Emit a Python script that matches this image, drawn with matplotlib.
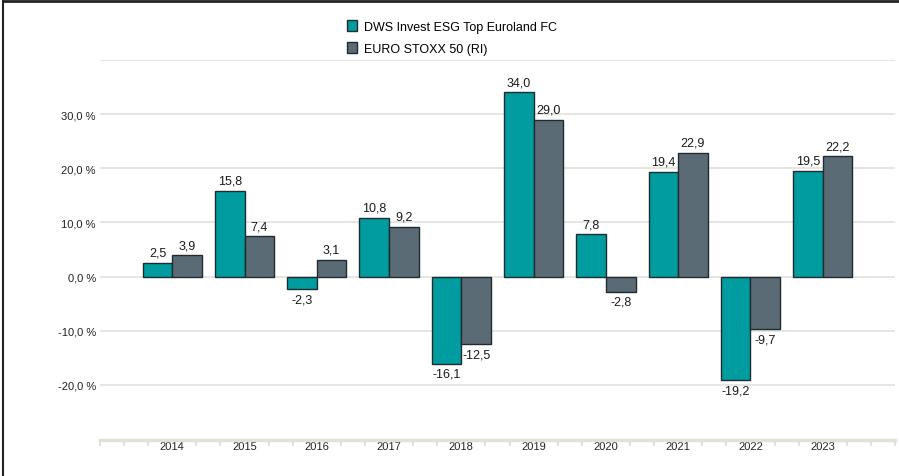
import matplotlib

matplotlib.use("Agg")
import matplotlib.pyplot as plt
import numpy as np
from matplotlib.lines import Line2D
from matplotlib.patches import Patch

years = ["2014", "2015", "2016", "2017", "2018", "2019", "2020", "2021", "2022", "2023"]
fund = [2.5, 15.8, -2.3, 10.8, -16.1, 34.0, 7.8, 19.4, -19.2, 19.5]
index = [3.9, 7.4, 3.1, 9.2, -12.5, 29.0, -2.8, 22.9, -9.7, 22.2]
fund_name = "DWS Invest ESG Top Euroland FC"
index_name = "EURO STOXX 50 (RI)"
y_ticks = [-20, -10, 0, 10, 20, 30]

TEAL = "#009c9f"
SLATE = "#5b6b76"
EDGE = "#1f2b2e"
GRID = "#e3e0da"

plt.rcParams["font.family"] = ["Liberation Sans", "DejaVu Sans"]

fig = plt.figure(figsize=(8.99, 4.77), dpi=100)
ax = fig.add_axes([100 / 899, 1 - 441 / 477, 795 / 899, (441 - 61) / 477])

x = np.arange(len(years))
w = 0.41
b1 = ax.bar(x - w / 2, fund, w, color=TEAL, edgecolor=EDGE, linewidth=1, zorder=3)
b2 = ax.bar(x + w / 2, index, w, color=SLATE, edgecolor=EDGE, linewidth=1, zorder=3)

def fmt(v):
    return f"{v:.1f}".replace(".", ",")

for bars, vals in [(b1, fund), (b2, index)]:
    for bar, v in zip(bars, vals):
        cx = bar.get_x() + bar.get_width() / 2
        if v >= 0:
            ax.annotate(fmt(v), (cx, v), xytext=(0, 3), textcoords="offset points",
                        ha="center", va="bottom", fontsize=9, color="#1a1a1a")
        else:
            ax.annotate(fmt(v), (cx, v), xytext=(0, -3), textcoords="offset points",
                        ha="center", va="top", fontsize=9, color="#1a1a1a")

ax.set_xlim(-1, 10)
ax.set_ylim(-30.2, 40)

# horizontal grid (incl. unlabelled 40 % line)
for g in y_ticks + [40]:
    ax.axhline(g, color=GRID, linewidth=1.2, zorder=1)

ax.set_yticks(y_ticks)
ax.set_yticklabels([f"{t},0 %" for t in y_ticks], fontsize=8, color="#222222")
ax.tick_params(axis="y", length=0, pad=3)

ax.set_xticks(x)
ax.set_xticklabels(years, fontsize=8, color="#222222")
ax.tick_params(axis="x", length=0, pad=1)
minor = [v for v in np.arange(-1, 10.01, 1 / 3) if abs(v - round(v)) > 0.01 or round(v) in (-1, 10)]
ax.set_xticks(minor, minor=True)
ax.tick_params(axis="x", which="minor", length=4, width=1.5, color=GRID, direction="out")

for s in ["top", "right", "left"]:
    ax.spines[s].set_visible(False)
ax.spines["bottom"].set_color(GRID)
ax.spines["bottom"].set_linewidth(2.5)

# legend
handles = [Patch(facecolor=TEAL, edgecolor=EDGE, linewidth=1),
           Patch(facecolor=SLATE, edgecolor=EDGE, linewidth=1)]
fig.legend(handles, [fund_name, index_name], loc="upper left",
           bbox_to_anchor=(336 / 899, 1 - 10 / 477), frameon=False, fontsize=9,
           handlelength=0.8, handleheight=0.9, handletextpad=0.5, labelspacing=0.75)

# page frame (left and top edges)
fig.add_artist(Line2D([3 / 899, 3 / 899], [0, 1 - 2 / 477], color="#222222", linewidth=1.5))
fig.add_artist(Line2D([3 / 899, 1], [1 - 2 / 477, 1 - 2 / 477], color="#222222", linewidth=2))

fig.savefig("out.png", dpi=100)
